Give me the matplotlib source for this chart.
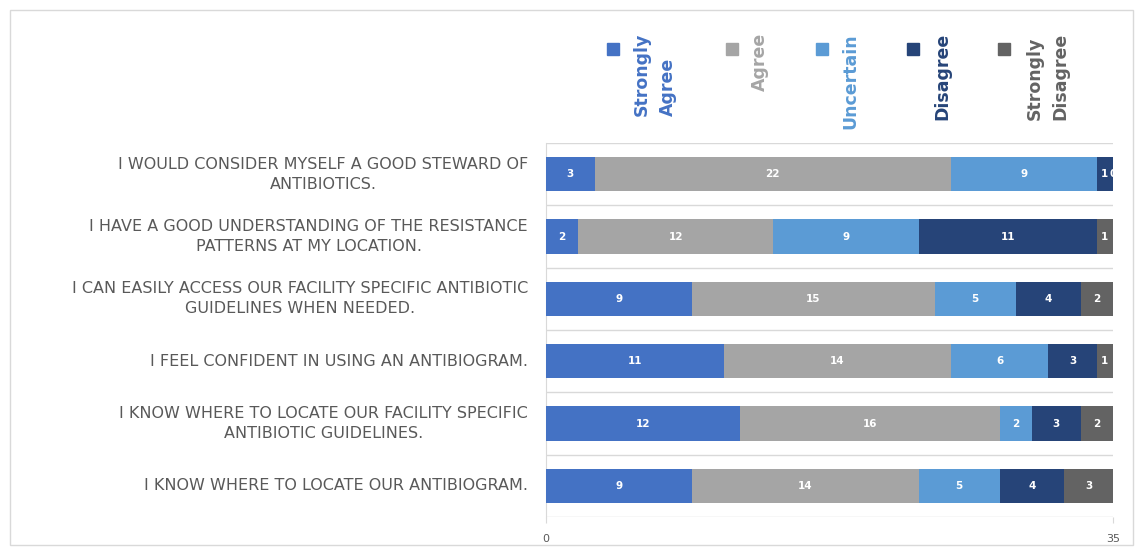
import matplotlib.pyplot as plt
from matplotlib.patches import Rectangle
from matplotlib import transforms
import numpy as np

# Survey statements (top to bottom as shown)
statements = [
    "I WOULD CONSIDER MYSELF A GOOD STEWARD OF\nANTIBIOTICS.",
    "I HAVE A GOOD UNDERSTANDING OF THE RESISTANCE\nPATTERNS AT MY LOCATION.",
    "I CAN EASILY ACCESS OUR FACILITY SPECIFIC ANTIBIOTIC\nGUIDELINES WHEN NEEDED.",
    "I FEEL CONFIDENT IN USING AN ANTIBIOGRAM.",
    "I KNOW WHERE TO LOCATE OUR FACILITY SPECIFIC\nANTIBIOTIC GUIDELINES.",
    "I KNOW WHERE TO LOCATE OUR ANTIBIOGRAM.",
]

series_names = ["Strongly\nAgree", "Agree", "Uncertain", "Disagree", "Strongly\nDisagree"]
strongly_agree = [3, 2, 9, 11, 12, 9]
agree = [22, 12, 15, 14, 16, 14]
uncertain = [9, 9, 5, 6, 2, 5]
disagree = [1, 11, 4, 3, 3, 4]
strongly_disagree = [0, 1, 2, 1, 2, 3]

colors = ["#4472C4", "#A5A5A5", "#5B9BD5", "#264478", "#636363"]
text_gray = "#595959"
grid_gray = "#D9D9D9"

W, H = 1141, 552
fig = plt.figure(figsize=(W / 100, H / 100), dpi=100)
ax = fig.add_axes([546 / W, 1 - 517 / H, (1113 - 546) / W, (517 - 143) / H])

y = np.arange(len(statements))
left = np.zeros(len(statements))
all_series = [strongly_agree, agree, uncertain, disagree, strongly_disagree]
for vals, col in zip(all_series, colors):
    vals = np.array(vals, dtype=float)
    ax.barh(y, vals, left=left, height=0.55, color=col, zorder=3)
    for yi, l, v in zip(y, left, vals):
        ax.text(l + v / 2, yi, f"{int(v)}", ha="center", va="center",
                color="white", fontsize=7.5, fontweight="bold", zorder=4)
    left += vals

ax.set_xlim(0, 35)
ax.set_ylim(len(statements) - 0.5, -0.5)
ax.set_yticks([])
ax.set_xticks([0, 35])
ax.tick_params(axis="x", length=4, color=grid_gray, labelsize=8,
               labelcolor=text_gray, pad=8)

# statement labels: right edge of block fixed, lines centred
label_trans = transforms.blended_transform_factory(fig.transFigure, ax.transData)
for yi, s in zip(y, statements):
    fig.text(528 / W, yi, s, transform=label_trans, ha="right", va="center",
             multialignment="center", fontsize=11.5, color=text_gray,
             linespacing=1.4)

# category boundary gridlines
for b in np.arange(-0.5, len(statements), 1.0):
    ax.axhline(b, color=grid_gray, linewidth=1, zorder=1)

for s in ["top", "right", "bottom"]:
    ax.spines[s].set_visible(False)
ax.spines["left"].set_color(grid_gray)

# legend, drawn vertically like the original
marker_x = [613, 732, 822, 913, 1004]
text_x = [655, 760, 850, 942, 1048]
for name, col, mx, tx in zip(series_names, colors, marker_x, text_x):
    fig.add_artist(Rectangle(((mx - 6) / W, 1 - 55 / H), 12 / W, 12 / H,
                             transform=fig.transFigure, color=col))
    fig.text(tx / W, 1 - 33 / H, name, rotation=90, ha="center", va="top",
             multialignment="left", color=col, fontsize=12.5,
             fontweight="bold", linespacing=1.55)

# outer chart border
fig.add_artist(Rectangle((10 / W, 1 - 545 / H), (1133 - 10) / W, (545 - 10) / H,
                         transform=fig.transFigure, fill=False,
                         edgecolor=grid_gray, linewidth=1))

fig.savefig("out.png", dpi=100)
